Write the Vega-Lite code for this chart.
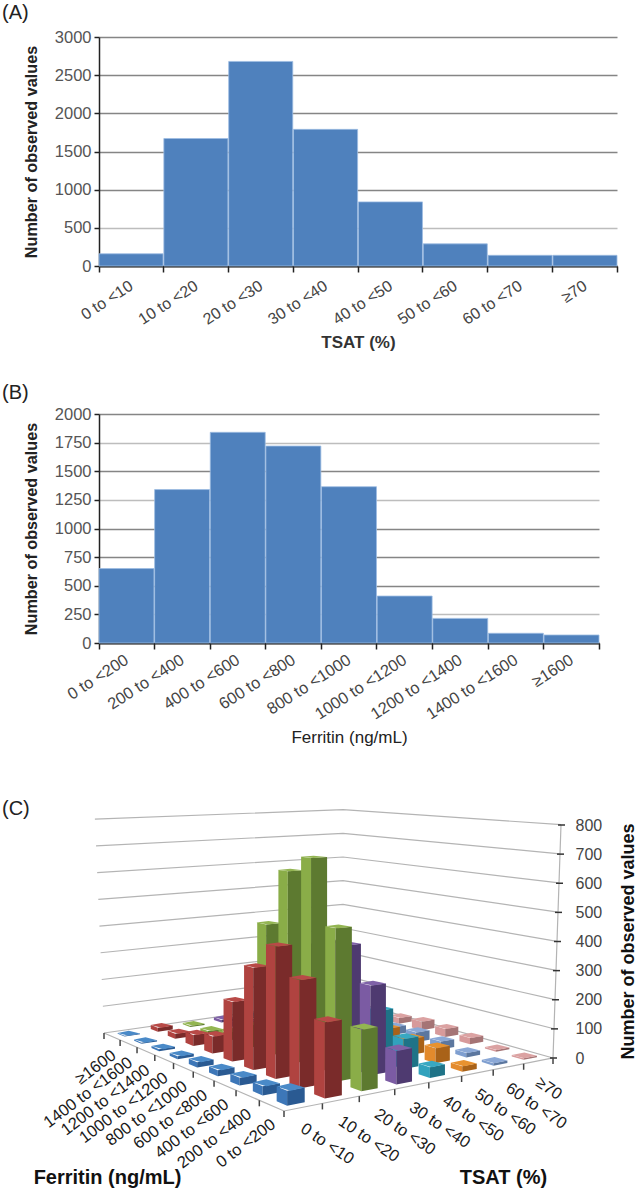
{
"$schema":"https://vega.github.io/schema/vega-lite/v6.json",
"padding":{"left":2,"top":3,"right":0,"bottom":0},
"bounds":"flush","spacing":148,
"background":"white",
"config":{"view":{"stroke":null},"font":"Liberation Sans"},
"vconcat":[
{"width":518,"height":229,
 "title":{"text":"(A)","anchor":"start","frame":"group","dx":-97,"offset":6,"fontSize":20,"fontWeight":"normal","color":"#222"},
 "data":{"values":[{"bin":"0 to <10","count":160},{"bin":"10 to <20","count":1670},{"bin":"20 to <30","count":2680},{"bin":"30 to <40","count":1790},{"bin":"40 to <50","count":840},{"bin":"50 to <60","count":290},{"bin":"60 to <70","count":140},{"bin":"≥70","count":140}]},
 "mark":{"type":"bar","color":"#4f81bd","stroke":"#9dbce2","strokeWidth":0.8},
 "encoding":{
  "x":{"field":"bin","type":"ordinal","sort":null,"scale":{"paddingInner":0.012,"paddingOuter":0},
   "axis":{"title":"TSAT (%)","titleFontSize":17,"titleFontWeight":"bold","titleColor":"#333","titleY":68,"labelAngle":-33,"labelAlign":"right","labelBaseline":"middle","labelFontSize":16,"labelColor":"#444","labelPadding":12,"labelOverlap":false,"tickBand":"extent","tickSize":6,"tickWidth":1.5,"tickColor":"#222","domainColor":"#222","domainWidth":2,"grid":false}},
  "y":{"field":"count","type":"quantitative","scale":{"domain":[0,3000],"nice":false},
   "axis":{"title":"Number of observed values","titleFontSize":16.2,"titleFontWeight":"bold","titleColor":"#222","titleX":-60,"format":"d","values":[0,500,1000,1500,2000,2500,3000],"labelFontSize":16.5,"labelColor":"#555","labelPadding":3,"tickSize":5,"tickWidth":1.5,"tickColor":"#222","domainColor":"#222","domainWidth":1.5,"gridColor":{"condition":{"test":"datum.value==500","value":"#bdbdbd"},"value":"#858585"},"gridWidth":1.5}}
 }},
{"width":500,"height":229,
 "title":{"text":"(B)","anchor":"start","frame":"group","dx":-97,"offset":3,"fontSize":20,"fontWeight":"normal","color":"#222"},
 "data":{"values":[{"bin":"0 to <200","count":650},{"bin":"200 to <400","count":1340},{"bin":"400 to <600","count":1840},{"bin":"600 to <800","count":1720},{"bin":"800 to <1000","count":1365},{"bin":"1000 to <1200","count":410},{"bin":"1200 to <1400","count":215},{"bin":"1400 to <1600","count":85},{"bin":"≥1600","count":70}]},
 "mark":{"type":"bar","color":"#4f81bd","stroke":"#9dbce2","strokeWidth":0.8},
 "encoding":{
  "x":{"field":"bin","type":"ordinal","sort":null,"scale":{"paddingInner":0.012,"paddingOuter":0},
   "axis":{"title":"Ferritin (ng/mL)","titleFontSize":17,"titleFontWeight":"normal","titleColor":"#222","titleY":86,"labelAngle":-33,"labelAlign":"right","labelBaseline":"middle","labelFontSize":16.4,"labelColor":"#444","labelPadding":9,"labelOverlap":false,"tickBand":"extent","tickSize":6,"tickWidth":1.5,"tickColor":"#222","domainColor":"#222","domainWidth":2,"grid":false}},
  "y":{"field":"count","type":"quantitative","scale":{"domain":[0,2000],"nice":false},
   "axis":{"title":"Number of observed values","titleFontSize":16.2,"titleFontWeight":"bold","titleColor":"#222","titleX":-60,"format":"d","values":[0,250,500,750,1000,1250,1500,1750,2000],"labelFontSize":16.5,"labelColor":"#555","labelPadding":3,"tickSize":5,"tickWidth":1.5,"tickColor":"#222","domainColor":"#222","domainWidth":1.5,"gridColor":{"condition":{"test":"datum.value==250||datum.value==1250||datum.value==1750","value":"#bdbdbd"},"value":"#858585"},"gridWidth":1.5}}
 }},
{"width":541,"height":398,
 "title":{"text":"(C)","anchor":"start","frame":"group","dx":-97,"offset":-28,"fontSize":20,"fontWeight":"normal","color":"#222"},
 "encoding":{
  "x":{"field":"sx","type":"quantitative","scale":{"domain":[99,640],"nice":false,"zero":false},
   "axis":{"title":"TSAT (%)","titleFontSize":20,"titleFontWeight":"bold","titleColor":"#111","titleX":404,"titleY":-6,"titleBaseline":"alphabetic","domain":false,"ticks":false,"labels":false,"grid":false}}
 },
 "resolve":{"scale":{"y":"independent"},"axis":{"y":"independent"}},
 "layer":[
 {"data":{"values":[{"level":0,"path":"wall"},{"level":100,"path":"wall"},{"level":200,"path":"wall"},{"level":300,"path":"wall"},{"level":400,"path":"wall"},{"level":500,"path":"wall"},{"level":600,"path":"wall"},{"level":700,"path":"wall"},{"level":800,"path":"wall"},{"level":0,"path":"front"}]},
  "transform":[
   {"calculate":"datum.path==='wall'?[[0,1,0],[1,1,1],[1,0,2]]:[[0,1,0],[0,0,1],[1,0,2]]","as":"vs"},
   {"flatten":["vs"]},
   {"calculate":"datum.vs[0]","as":"u"},{"calculate":"datum.vs[1]","as":"v"},{"calculate":"datum.vs[2]","as":"idx"},
   {"calculate":"1+0.1658*datum.u+0.2712*datum.v","as":"w"},
   {"calculate":"(360.7*datum.u-151.8*datum.v+284)/datum.w","as":"X"},
   {"calculate":"datum.X+datum.level*0.0000476*(datum.X-343)","as":"sx"},
   {"calculate":"(122.2*datum.u+201.9*datum.v+1110-0.34*datum.level)/datum.w","as":"sy"},
   {"calculate":"datum.path+datum.level","as":"lineId"}
  ],
  "mark":{"type":"line","color":"#b4b4b4","strokeWidth":1.2},
  "encoding":{
   "y":{"field":"sy","type":"quantitative","scale":{"domain":[1188,790],"nice":false,"zero":false},
    "axis":{"orient":"left","title":"Ferritin (ng/mL)","titleFontSize":20,"titleFontWeight":"bold","titleColor":"#111","titleAngle":0,"titleX":8,"titleY":392,"titleBaseline":"alphabetic","domain":false,"ticks":false,"labels":false,"grid":false}},
   "detail":{"field":"lineId"},
   "order":{"field":"idx"}
  }},
 {"data":{"values":[{"level":0},{"level":100},{"level":200},{"level":300},{"level":400},{"level":500},{"level":600},{"level":700},{"level":800}]},
  "transform":[
   {"calculate":"553+datum.level*0.0000476*210","as":"sx"}
  ],
  "mark":{"type":"line","color":"#b4b4b4","strokeWidth":1.2},
  "encoding":{
   "y":{"field":"level","type":"quantitative","scale":{"domain":[0,800],"range":[267,34],"nice":false},
    "axis":{"orient":"right","offset":-87,"title":"Number of observed values","titleFontSize":18,"titleFontWeight":"bold","titleColor":"#111","titleX":84,"titleY":150,"titleAngle":-90,"values":[0,100,200,300,400,500,600,700,800],"domain":false,"ticks":false,"grid":false,"labelPadding":22,"labelFontSize":16,"labelColor":"#444"}},
   "order":{"field":"level"}
  }},
 {"data":{"values":[{"level":0},{"level":100},{"level":200},{"level":300},{"level":400},{"level":500},{"level":600},{"level":700},{"level":800}]},
  "transform":[
   {"calculate":"550+datum.level*0.0000476*210","as":"sx"},
   {"calculate":"datum.sx+7","as":"sx2"}
  ],
  "mark":{"type":"rule","color":"#333","strokeWidth":1.5},
  "encoding":{
   "y":{"field":"level","type":"quantitative","scale":{"domain":[0,800],"range":[267,34],"nice":false},"axis":null},
   "x2":{"field":"sx2"}
  }},
 {"data":{"values":[{"axis":"tsat","i":0},{"axis":"tsat","i":1},{"axis":"tsat","i":2},{"axis":"tsat","i":3},{"axis":"tsat","i":4},{"axis":"tsat","i":5},{"axis":"tsat","i":6},{"axis":"tsat","i":7},{"axis":"tsat","i":8},{"axis":"ferritin","i":1},{"axis":"ferritin","i":2},{"axis":"ferritin","i":3},{"axis":"ferritin","i":4},{"axis":"ferritin","i":5},{"axis":"ferritin","i":6},{"axis":"ferritin","i":7},{"axis":"ferritin","i":8},{"axis":"ferritin","i":9}]},
  "transform":[
   {"calculate":"datum.axis==='tsat'?datum.i/8:0","as":"u"},
   {"calculate":"datum.axis==='ferritin'?datum.i/9:0","as":"v"},
   {"calculate":"1+0.1658*datum.u+0.2712*datum.v","as":"w"},
   {"calculate":"(360.7*datum.u-151.8*datum.v+284)/datum.w","as":"sx"},
   {"calculate":"(122.2*datum.u+201.9*datum.v+1110)/datum.w","as":"sy"},
   {"calculate":"datum.sy+6","as":"sy2"}
  ],
  "mark":{"type":"rule","color":"#444","strokeWidth":1.5},
  "encoding":{
   "y":{"field":"sy","type":"quantitative","scale":{"domain":[1188,790],"nice":false,"zero":false},"axis":null},
   "y2":{"field":"sy2"}
  }},
 {"data":{"values":[{"tsat":7,"ferritin":8,"count":5},{"tsat":7,"ferritin":7,"count":6},{"tsat":7,"ferritin":6,"count":12},{"tsat":7,"ferritin":5,"count":22},{"tsat":7,"ferritin":4,"count":32},{"tsat":7,"ferritin":3,"count":30},{"tsat":7,"ferritin":2,"count":22},{"tsat":7,"ferritin":1,"count":6},{"tsat":7,"ferritin":0,"count":5},
 {"tsat":6,"ferritin":8,"count":2},{"tsat":6,"ferritin":7,"count":4},{"tsat":6,"ferritin":6,"count":8},{"tsat":6,"ferritin":5,"count":12},{"tsat":6,"ferritin":4,"count":28},{"tsat":6,"ferritin":3,"count":35},{"tsat":6,"ferritin":2,"count":28},{"tsat":6,"ferritin":1,"count":15},{"tsat":6,"ferritin":0,"count":8},
 {"tsat":5,"ferritin":8,"count":4},{"tsat":5,"ferritin":7,"count":6},{"tsat":5,"ferritin":6,"count":12},{"tsat":5,"ferritin":5,"count":20},{"tsat":5,"ferritin":4,"count":55},{"tsat":5,"ferritin":3,"count":65},{"tsat":5,"ferritin":2,"count":55},{"tsat":5,"ferritin":1,"count":50},{"tsat":5,"ferritin":0,"count":18},
 {"tsat":4,"ferritin":8,"count":5},{"tsat":4,"ferritin":7,"count":10},{"tsat":4,"ferritin":6,"count":20},{"tsat":4,"ferritin":5,"count":60},{"tsat":4,"ferritin":4,"count":210},{"tsat":4,"ferritin":3,"count":220},{"tsat":4,"ferritin":2,"count":170},{"tsat":4,"ferritin":1,"count":100},{"tsat":4,"ferritin":0,"count":35},
 {"tsat":3,"ferritin":8,"count":10},{"tsat":3,"ferritin":7,"count":20},{"tsat":3,"ferritin":6,"count":50},{"tsat":3,"ferritin":5,"count":130},{"tsat":3,"ferritin":4,"count":370},{"tsat":3,"ferritin":3,"count":400},{"tsat":3,"ferritin":2,"count":405},{"tsat":3,"ferritin":1,"count":292},{"tsat":3,"ferritin":0,"count":107},
 {"tsat":2,"ferritin":8,"count":5},{"tsat":2,"ferritin":7,"count":10},{"tsat":2,"ferritin":6,"count":30},{"tsat":2,"ferritin":5,"count":79},{"tsat":2,"ferritin":4,"count":455},{"tsat":2,"ferritin":3,"count":650},{"tsat":2,"ferritin":2,"count":705},{"tsat":2,"ferritin":1,"count":490},{"tsat":2,"ferritin":0,"count":192},
 {"tsat":1,"ferritin":8,"count":15},{"tsat":1,"ferritin":7,"count":18},{"tsat":1,"ferritin":6,"count":39},{"tsat":1,"ferritin":5,"count":60},{"tsat":1,"ferritin":4,"count":203},{"tsat":1,"ferritin":3,"count":339},{"tsat":1,"ferritin":2,"count":427},{"tsat":1,"ferritin":1,"count":340},{"tsat":1,"ferritin":0,"count":232},
 {"tsat":0,"ferritin":8,"count":3},{"tsat":0,"ferritin":7,"count":4},{"tsat":0,"ferritin":6,"count":7},{"tsat":0,"ferritin":5,"count":10},{"tsat":0,"ferritin":4,"count":18},{"tsat":0,"ferritin":3,"count":20},{"tsat":0,"ferritin":2,"count":25},{"tsat":0,"ferritin":1,"count":28},{"tsat":0,"ferritin":0,"count":45}]},
  "transform":[
   {"calculate":"[[0,0,1,1,0,1,0],[0,0,0,1,0,0,0],[1,0,0,1,0,0,0],[1,1,0,1,1,0,0],[2,0,1,1,0,1,1],[2,1,1,1,0,0,1],[2,1,0,1,1,0,1]]","as":"vs"},
   {"flatten":["vs"]},
   {"calculate":"(datum.tsat+(datum.vs[1]?0.73:0.27))/8","as":"ua"},
   {"calculate":"(datum.ferritin+(datum.vs[2]?0.71:0.29))/9","as":"va"},
   {"calculate":"datum.vs[3]?datum.count:0","as":"za"},
   {"calculate":"(datum.tsat+(datum.vs[4]?0.73:0.27))/8","as":"ub"},
   {"calculate":"(datum.ferritin+(datum.vs[5]?0.71:0.29))/9","as":"vb"},
   {"calculate":"datum.vs[6]?datum.count:0","as":"zb"},
   {"calculate":"1+0.1658*datum.ua+0.2712*datum.va","as":"wa"},
   {"calculate":"1+0.1658*datum.ub+0.2712*datum.vb","as":"wb"},
   {"calculate":"(360.7*datum.ua-151.8*datum.va+284)/datum.wa","as":"Xa"},
   {"calculate":"(360.7*datum.ub-151.8*datum.vb+284)/datum.wb","as":"Xb"},
   {"calculate":"0.5*(datum.Xa+datum.za*0.0000476*(datum.Xa-343)+datum.Xb+datum.zb*0.0000476*(datum.Xb-343))","as":"sx"},
   {"calculate":"(122.2*datum.ua+201.9*datum.va+1110-0.34*datum.za)/datum.wa","as":"sy"},
   {"calculate":"(122.2*datum.ub+201.9*datum.vb+1110-0.34*datum.zb)/datum.wb","as":"sy2"},
   {"calculate":"datum.tsat+'-'+datum.vs[0]","as":"faceKey"},
   {"calculate":"datum.tsat+'-'+datum.ferritin+'-'+datum.vs[0]","as":"faceId"}
  ],
  "mark":{"type":"area","orient":"vertical","interpolate":"linear"},
  "encoding":{
   "y":{"field":"sy","type":"quantitative","stack":null,"scale":{"domain":[1188,790],"nice":false,"zero":false},"axis":null},
   "y2":{"field":"sy2"},
   "detail":{"field":"faceId"},
   "color":{"field":"faceKey","type":"nominal","legend":null,"scale":{
    "domain":["0-0","0-1","0-2","1-0","1-1","1-2","2-0","2-1","2-2","3-0","3-1","3-2","4-0","4-1","4-2","5-0","5-1","5-2","6-0","6-1","6-2","7-0","7-1","7-2"],
    "range":["#3d77b8","#2a5a92","#4a8ac8","#b04340","#7a2b2a","#b84a47","#8aad48","#5d7a30","#93b552","#7b5ba3","#4e3a70","#7f62a8","#31a2bd","#1f7387","#38a8c2","#e38a2c","#a96218","#e8922f","#7f9fd0","#5c779f","#8ba8d6","#d79a9b","#a57475","#dba2a2"]}}
  }},
 {"data":{"values":[{"label":"0 to <200","i":0},{"label":"200 to <400","i":1},{"label":"400 to <600","i":2},{"label":"600 to <800","i":3},{"label":"800 to <1000","i":4},{"label":"1000 to <1200","i":5},{"label":"1200 to <1400","i":6},{"label":"1400 to <1600","i":7},{"label":"≥1600","i":8}]},
  "transform":[
   {"calculate":"(datum.i+0.5)/9","as":"v"},
   {"calculate":"1+0.2712*datum.v","as":"w"},
   {"calculate":"(-151.8*datum.v+284)/datum.w+2","as":"sx"},
   {"calculate":"(201.9*datum.v+1110)/datum.w+17","as":"sy"}
  ],
  "mark":{"type":"text","align":"right","baseline":"middle","angle":323,"fontSize":16.5,"color":"#1a1a1a"},
  "encoding":{
   "y":{"field":"sy","type":"quantitative","scale":{"domain":[1188,790],"nice":false,"zero":false},"axis":null},
   "text":{"field":"label"}
  }},
 {"data":{"values":[{"label":"0 to <10","i":0},{"label":"10 to <20","i":1},{"label":"20 to <30","i":2},{"label":"30 to <40","i":3},{"label":"40 to <50","i":4},{"label":"50 to <60","i":5},{"label":"60 to <70","i":6},{"label":"≥70","i":7}]},
  "transform":[
   {"calculate":"(datum.i+0.5)/8","as":"u"},
   {"calculate":"1+0.1658*datum.u","as":"w"},
   {"calculate":"(360.7*datum.u+284)/datum.w-1","as":"sx"},
   {"calculate":"(122.2*datum.u+1110)/datum.w+20","as":"sy"}
  ],
  "mark":{"type":"text","align":"left","baseline":"middle","angle":34,"fontSize":16.5,"color":"#1a1a1a"},
  "encoding":{
   "y":{"field":"sy","type":"quantitative","scale":{"domain":[1188,790],"nice":false,"zero":false},"axis":null},
   "text":{"field":"label"}
  }}
 ]}
]}
